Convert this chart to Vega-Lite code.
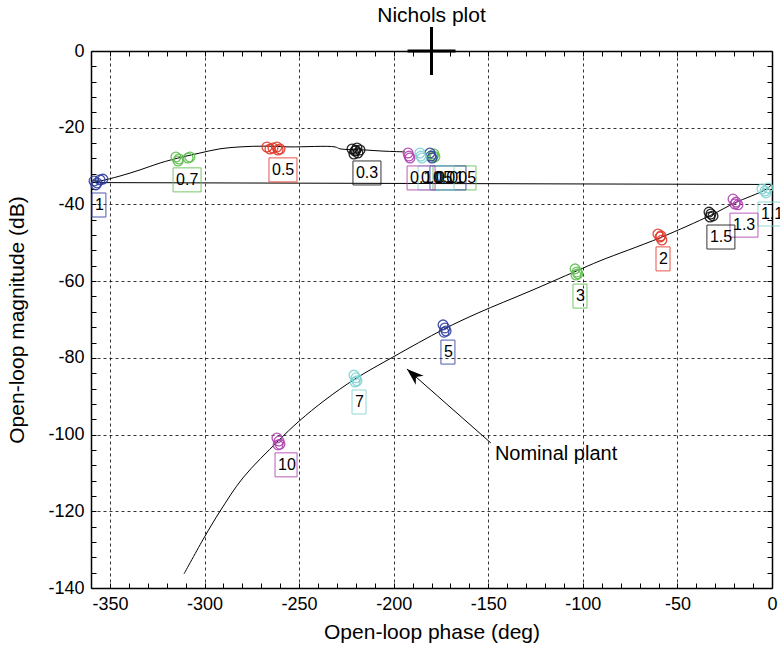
{
  "$schema": "https://vega.github.io/schema/vega-lite/v6.json",
  "width": 681,
  "height": 537,
  "autosize": {"type": "none"},
  "padding": {"left": 91, "top": 51, "right": 8, "bottom": 64},
  "background": "white",
  "config": {"view": {"stroke": null}, "font": "Liberation Sans"},
  "title": {"text": "Nichols plot", "font": "Liberation Sans", "fontSize": 21, "fontWeight": "normal", "color": "black", "offset": -5},
  "datasets": {
    "nominal": [
      {"seg": "a", "i": 0, "phase": -194.0, "mag": -26.3},
      {"seg": "a", "i": 1, "phase": -205.6, "mag": -26.1},
      {"seg": "a", "i": 2, "phase": -215.2, "mag": -25.8},
      {"seg": "a", "i": 3, "phase": -228.4, "mag": -25.5},
      {"seg": "a", "i": 4, "phase": -231.0, "mag": -25.0},
      {"seg": "a", "i": 5, "phase": -254.8, "mag": -25.0},
      {"seg": "a", "i": 6, "phase": -268.0, "mag": -24.8},
      {"seg": "a", "i": 7, "phase": -281.2, "mag": -25.0},
      {"seg": "a", "i": 8, "phase": -291.8, "mag": -25.5},
      {"seg": "a", "i": 9, "phase": -302.4, "mag": -26.6},
      {"seg": "a", "i": 10, "phase": -311.4, "mag": -27.6},
      {"seg": "a", "i": 11, "phase": -323.5, "mag": -29.2},
      {"seg": "a", "i": 12, "phase": -334.1, "mag": -31.0},
      {"seg": "a", "i": 13, "phase": -344.7, "mag": -32.6},
      {"seg": "a", "i": 14, "phase": -355.2, "mag": -33.9},
      {"seg": "a", "i": 15, "phase": -360.0, "mag": -34.3},
      {"seg": "b", "i": 16, "phase": -360.0, "mag": -34.3},
      {"seg": "b", "i": 17, "phase": 0.0, "mag": -34.8},
      {"seg": "c", "i": 18, "phase": 0.0, "mag": -34.8},
      {"seg": "c", "i": 19, "phase": -3.7, "mag": -36.2},
      {"seg": "c", "i": 20, "phase": -19.6, "mag": -39.6},
      {"seg": "c", "i": 21, "phase": -32.3, "mag": -42.8},
      {"seg": "c", "i": 22, "phase": -59.2, "mag": -48.7},
      {"seg": "c", "i": 23, "phase": -90.9, "mag": -54.7},
      {"seg": "c", "i": 24, "phase": -103.6, "mag": -57.4},
      {"seg": "c", "i": 25, "phase": -127.9, "mag": -62.6},
      {"seg": "c", "i": 26, "phase": -155.4, "mag": -68.3},
      {"seg": "c", "i": 27, "phase": -173.4, "mag": -72.5},
      {"seg": "c", "i": 28, "phase": -200.4, "mag": -79.8},
      {"seg": "c", "i": 29, "phase": -220.4, "mag": -85.5},
      {"seg": "c", "i": 30, "phase": -236.3, "mag": -91.0},
      {"seg": "c", "i": 31, "phase": -250.0, "mag": -96.5},
      {"seg": "c", "i": 32, "phase": -261.1, "mag": -101.7},
      {"seg": "c", "i": 33, "phase": -279.7, "mag": -111.3},
      {"seg": "c", "i": 34, "phase": -291.8, "mag": -120.0},
      {"seg": "c", "i": 35, "phase": -300.0, "mag": -126.7},
      {"seg": "c", "i": 36, "phase": -310.8, "mag": -136.3}
    ],
    "templates": [
      {"w": "0.005", "phase": -178.7, "mag": -26.85},
      {"w": "0.005", "phase": -178.2, "mag": -27.6},
      {"w": "0.005", "phase": -179.2, "mag": -27.4},
      {"w": "0.01", "phase": -180.8, "mag": -26.6},
      {"w": "0.01", "phase": -180.3, "mag": -27.4},
      {"w": "0.01", "phase": -179.7, "mag": -27.9},
      {"w": "0.05", "phase": -186.1, "mag": -26.6},
      {"w": "0.05", "phase": -185.6, "mag": -27.4},
      {"w": "0.05", "phase": -185.0, "mag": -27.9},
      {"w": "0.1", "phase": -192.4, "mag": -26.6},
      {"w": "0.1", "phase": -191.9, "mag": -27.4},
      {"w": "0.1", "phase": -191.4, "mag": -27.9},
      {"w": "0.3", "phase": -222.0, "mag": -25.55},
      {"w": "0.3", "phase": -220.4, "mag": -26.07},
      {"w": "0.3", "phase": -218.9, "mag": -26.59},
      {"w": "0.3", "phase": -217.8, "mag": -25.81},
      {"w": "0.3", "phase": -221.0, "mag": -26.85},
      {"w": "0.3", "phase": -219.4, "mag": -25.29},
      {"w": "0.3", "phase": -220.0, "mag": -25.9},
      {"w": "0.5", "phase": -267.0, "mag": -25.03},
      {"w": "0.5", "phase": -265.4, "mag": -25.55},
      {"w": "0.5", "phase": -263.8, "mag": -25.29},
      {"w": "0.5", "phase": -261.7, "mag": -25.03},
      {"w": "0.5", "phase": -260.1, "mag": -25.55},
      {"w": "0.5", "phase": -261.1, "mag": -25.81},
      {"w": "0.7", "phase": -315.1, "mag": -27.63},
      {"w": "0.7", "phase": -313.5, "mag": -28.15},
      {"w": "0.7", "phase": -314.0, "mag": -28.68},
      {"w": "0.7", "phase": -307.7, "mag": -27.63},
      {"w": "0.7", "phase": -308.7, "mag": -27.89},
      {"w": "1", "phase": -358.4, "mag": -33.9},
      {"w": "1", "phase": -356.8, "mag": -34.4},
      {"w": "1", "phase": -355.2, "mag": -33.6},
      {"w": "1", "phase": -353.7, "mag": -33.4},
      {"w": "1", "phase": -357.4, "mag": -34.9},
      {"w": "1.1", "phase": -5.3, "mag": -35.98},
      {"w": "1.1", "phase": -3.7, "mag": -36.5},
      {"w": "1.1", "phase": -2.1, "mag": -35.7},
      {"w": "1.1", "phase": -3.2, "mag": -37.0},
      {"w": "1.3", "phase": -20.6, "mag": -38.6},
      {"w": "1.3", "phase": -19.0, "mag": -39.4},
      {"w": "1.3", "phase": -18.0, "mag": -40.1},
      {"w": "1.3", "phase": -19.6, "mag": -39.9},
      {"w": "1.5", "phase": -33.3, "mag": -42.0},
      {"w": "1.5", "phase": -32.3, "mag": -42.5},
      {"w": "1.5", "phase": -31.2, "mag": -43.0},
      {"w": "1.5", "phase": -32.8, "mag": -43.3},
      {"w": "2", "phase": -60.3, "mag": -47.7},
      {"w": "2", "phase": -59.2, "mag": -48.5},
      {"w": "2", "phase": -58.2, "mag": -49.3},
      {"w": "2", "phase": -58.7, "mag": -48.2},
      {"w": "3", "phase": -104.1, "mag": -56.8},
      {"w": "3", "phase": -103.1, "mag": -57.6},
      {"w": "3", "phase": -102.6, "mag": -58.1},
      {"w": "3", "phase": -103.6, "mag": -58.4},
      {"w": "5", "phase": -173.9, "mag": -71.4},
      {"w": "5", "phase": -172.9, "mag": -72.2},
      {"w": "5", "phase": -172.3, "mag": -73.0},
      {"w": "5", "phase": -173.4, "mag": -73.3},
      {"w": "7", "phase": -221.0, "mag": -84.5},
      {"w": "7", "phase": -219.9, "mag": -85.2},
      {"w": "7", "phase": -219.4, "mag": -86.0},
      {"w": "7", "phase": -220.4, "mag": -86.3},
      {"w": "10", "phase": -261.7, "mag": -100.9},
      {"w": "10", "phase": -260.6, "mag": -101.7},
      {"w": "10", "phase": -260.1, "mag": -102.5},
      {"w": "10", "phase": -261.1, "mag": -102.7}
    ],
    "tags": [
      {"w": "0.005", "phase": -177.1, "mag": -27.1},
      {"w": "0.01", "phase": -178.7, "mag": -27.1},
      {"w": "0.05", "phase": -185.0, "mag": -27.1},
      {"w": "0.1", "phase": -190.8, "mag": -27.1},
      {"w": "0.3", "phase": -219.4, "mag": -25.8},
      {"w": "0.5", "phase": -263.8, "mag": -25.0},
      {"w": "0.7", "phase": -314.5, "mag": -27.6},
      {"w": "1", "phase": -357.4, "mag": -34.15},
      {"w": "1.1", "phase": -5.3, "mag": -36.5},
      {"w": "1.3", "phase": -20.1, "mag": -39.4},
      {"w": "1.5", "phase": -32.3, "mag": -42.5},
      {"w": "2", "phase": -59.2, "mag": -48.2},
      {"w": "3", "phase": -103.1, "mag": -57.9},
      {"w": "5", "phase": -172.9, "mag": -72.5},
      {"w": "7", "phase": -219.9, "mag": -85.5},
      {"w": "10", "phase": -260.6, "mag": -101.9}
    ],
    "notes": [
      {"text": "Nominal plant", "phase": -148.6, "mag": -102.2, "phase2": -193.0, "mag2": -82.9}
    ],
    "critical": [
      {"phase": -180, "mag": 0}
    ]
  },
  "layer": [
    {
      "data": {"name": "nominal"},
      "mark": {"type": "line", "color": "black", "strokeWidth": 1, "clip": true, "interpolate": "catmull-rom"},
      "encoding": {
        "x": {
          "field": "phase", "type": "quantitative",
          "scale": {"domain": [-360, 0], "nice": false, "zero": false},
          "axis": {
            "orient": "bottom", "title": "Open-loop phase (deg)",
            "values": [-360,-350,-340,-330,-320,-310,-300,-290,-280,-270,-260,-250,-240,-230,-220,-210,-200,-190,-180,-170,-160,-150,-140,-130,-120,-110,-100,-90,-80,-70,-60,-50,-40,-30,-20,-10,0],
            "labelExpr": "datum.value % 50 === 0 ? '' + datum.value : ''",
            "labelOverlap": false, "labelFlush": false, "labelFont": "Liberation Sans", "labelFontSize": 18, "labelColor": "black", "labelPadding": 12,
            "tickSize": -5, "tickColor": "black", "tickWidth": 1,
            "domainColor": "black", "domainWidth": 1.5,
            "grid": true, "gridColor": "black", "gridDash": [3, 3], "gridWidth": 0.8,
            "gridOpacity": {"condition": {"test": "datum.value % 50 === 0", "value": 1}, "value": 0},
            "titleFont": "Liberation Sans", "titleFontSize": 21, "titleFontWeight": "normal", "titleColor": "black", "titlePadding": 8
          }
        },
        "y": {
          "field": "mag", "type": "quantitative",
          "scale": {"domain": [-140, 0], "nice": false, "zero": false},
          "axis": {
            "orient": "left", "title": "Open-loop magnitude (dB)",
            "values": [-140,-136,-132,-128,-124,-120,-116,-112,-108,-104,-100,-96,-92,-88,-84,-80,-76,-72,-68,-64,-60,-56,-52,-48,-44,-40,-36,-32,-28,-24,-20,-16,-12,-8,-4,0],
            "labelExpr": "datum.value % 20 === 0 ? '' + datum.value : ''",
            "labelOverlap": false, "labelFlush": false, "labelFont": "Liberation Sans", "labelFontSize": 18, "labelColor": "black", "labelPadding": 12,
            "tickSize": -5, "tickColor": "black", "tickWidth": 1,
            "domainColor": "black", "domainWidth": 1.5,
            "grid": true, "gridColor": "black", "gridDash": [3, 3], "gridWidth": 0.8,
            "gridOpacity": {"condition": {"test": "datum.value % 20 === 0", "value": 1}, "value": 0},
            "titleFont": "Liberation Sans", "titleFontSize": 21, "titleFontWeight": "normal", "titleColor": "black", "titlePadding": 20
          }
        },
        "detail": {"field": "seg", "type": "nominal"},
        "order": {"field": "i", "type": "quantitative"}
      }
    },
    {
      "data": {"name": "templates"},
      "mark": {"type": "point", "shape": "circle", "filled": false, "size": 95, "strokeWidth": 1.3, "opacity": 0.9},
      "encoding": {
        "x": {
          "field": "phase", "type": "quantitative",
          "axis": {
            "orient": "top", "title": null, "labels": false, "grid": false,
            "values": [-360,-350,-340,-330,-320,-310,-300,-290,-280,-270,-260,-250,-240,-230,-220,-210,-200,-190,-180,-170,-160,-150,-140,-130,-120,-110,-100,-90,-80,-70,-60,-50,-40,-30,-20,-10,0],
            "tickSize": -5, "tickColor": "black", "tickWidth": 1,
            "domainColor": "black", "domainWidth": 1.5
          }
        },
        "y": {
          "field": "mag", "type": "quantitative",
          "axis": {
            "orient": "right", "title": null, "labels": false, "grid": false,
            "values": [-140,-136,-132,-128,-124,-120,-116,-112,-108,-104,-100,-96,-92,-88,-84,-80,-76,-72,-68,-64,-60,-56,-52,-48,-44,-40,-36,-32,-28,-24,-20,-16,-12,-8,-4,0],
            "tickSize": -5, "tickColor": "black", "tickWidth": 1,
            "domainColor": "black", "domainWidth": 1.5
          }
        },
        "color": {
          "field": "w", "type": "nominal", "legend": null,
          "scale": {
            "domain": ["0.005","0.01","0.05","0.1","0.3","0.5","0.7","1","1.1","1.3","1.5","2","3","5","7","10"],
            "range": ["#5fbf4f","#2f3f9f","#7fd3d3","#b040b0","#111111","#e2382a","#5fbf4f","#2f3f9f","#7fd3d3","#b040b0","#111111","#e2382a","#5fbf4f","#2f3f9f","#7fd3d3","#b040b0"]
          }
        }
      }
    },
    {
      "data": {"name": "tags"},
      "mark": {"type": "point", "filled": false, "size": 4, "strokeWidth": 1, "opacity": 0.85},
      "encoding": {
        "x": {"field": "phase", "type": "quantitative", "axis": null},
        "y": {"field": "mag", "type": "quantitative", "axis": null},
        "color": {"field": "w", "type": "nominal", "legend": null},
        "shape": {
          "field": "w", "type": "nominal", "legend": null,
          "scale": {
            "domain": ["0.005","0.01","0.05","0.1","0.3","0.5","0.7","1","1.1","1.3","1.5","2","3","5","7","10"],
            "range": [
              "M-4,11H39V35H-4Z",
              "M-4,11H32V35H-4Z",
              "M-4,11H32V35H-4Z",
              "M-4,11H24V35H-4Z",
              "M-4,11H24V35H-4Z",
              "M-4,11H24V35H-4Z",
              "M-4,11H24V35H-4Z",
              "M-4,11H10V35H-4Z",
              "M-4,11H24V35H-4Z",
              "M-4,11H24V35H-4Z",
              "M-4,11H24V35H-4Z",
              "M-4,11H10V35H-4Z",
              "M-4,11H10V35H-4Z",
              "M-4,11H10V35H-4Z",
              "M-4,11H10V35H-4Z",
              "M-4,11H18V35H-4Z"
            ]
          }
        }
      }
    },
    {
      "data": {"name": "tags"},
      "mark": {"type": "text", "align": "left", "baseline": "middle", "dx": -1, "dy": 23, "font": "Liberation Sans", "fontSize": 16, "color": "black"},
      "encoding": {
        "x": {"field": "phase", "type": "quantitative", "axis": null},
        "y": {"field": "mag", "type": "quantitative", "axis": null},
        "text": {"field": "w"}
      }
    },
    {
      "data": {"name": "notes"},
      "mark": {"type": "rule", "color": "black", "strokeWidth": 1},
      "encoding": {
        "x": {"field": "phase", "type": "quantitative", "axis": null},
        "y": {"field": "mag", "type": "quantitative", "axis": null},
        "x2": {"field": "phase2"},
        "y2": {"field": "mag2"}
      }
    },
    {
      "data": {"name": "notes"},
      "mark": {"type": "point", "shape": "M0,0L-6,17L0,12L6,17Z", "size": 4, "filled": true, "color": "black", "opacity": 1, "angle": -48.7},
      "encoding": {
        "x": {"field": "phase2", "type": "quantitative", "axis": null},
        "y": {"field": "mag2", "type": "quantitative", "axis": null}
      }
    },
    {
      "data": {"name": "notes"},
      "mark": {"type": "text", "align": "left", "baseline": "middle", "dx": 4, "dy": 11, "font": "Liberation Sans", "fontSize": 20, "color": "black"},
      "encoding": {
        "x": {"field": "phase", "type": "quantitative", "axis": null},
        "y": {"field": "mag", "type": "quantitative", "axis": null},
        "text": {"field": "text"}
      }
    },
    {
      "data": {"name": "critical"},
      "mark": {"type": "point", "shape": "M-24,0H24M0,-24V24", "size": 4, "filled": false, "color": "black", "strokeWidth": 3, "opacity": 1, "clip": false},
      "encoding": {
        "x": {"field": "phase", "type": "quantitative", "axis": null},
        "y": {"field": "mag", "type": "quantitative", "axis": null}
      }
    }
  ],
  "resolve": {"axis": {"x": "independent", "y": "independent"}}
}
